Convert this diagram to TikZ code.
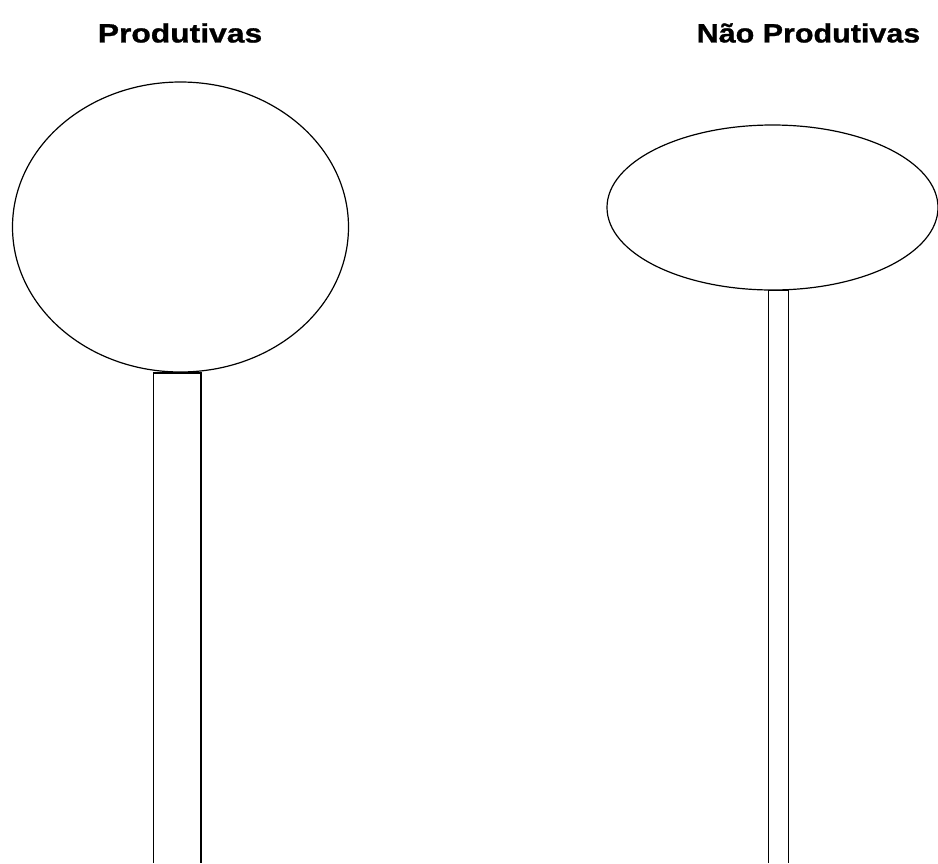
\documentclass[tikz,border=0pt]{standalone}
\usepackage{fontspec}
\setmainfont{Liberation Sans}[BoldFeatures={FakeBold=1}]
\usepackage{tikz}
\usetikzlibrary{positioning}

\begin{document}
\begin{tikzpicture}[x=1pt,y=-1pt,line width=1.2pt]
\useasboundingbox (0,0) rectangle (938,863);
\tikzset{title/.style={font=\fontsize{26.5}{30}\selectfont\bfseries}}
% labels
\node[title] (prod) at (180,33) {\scalebox{1.2}[1]{Produtivas}};
\node[title] (naoprod) at (808.5,33) {\scalebox{1.15}[1]{Não Produtivas}};
% left tree
\draw (180.5,227) ellipse [x radius=168,y radius=145];
\draw (153.5,863)--(153.5,373)--(201,373)--(201,863);
% right tree
\draw (772.5,207.5) ellipse [x radius=165.5,y radius=82.5];
\draw (768.5,863)--(768.5,290.5)--(788.5,290.5)--(788.5,863);
\end{tikzpicture}
\end{document}
